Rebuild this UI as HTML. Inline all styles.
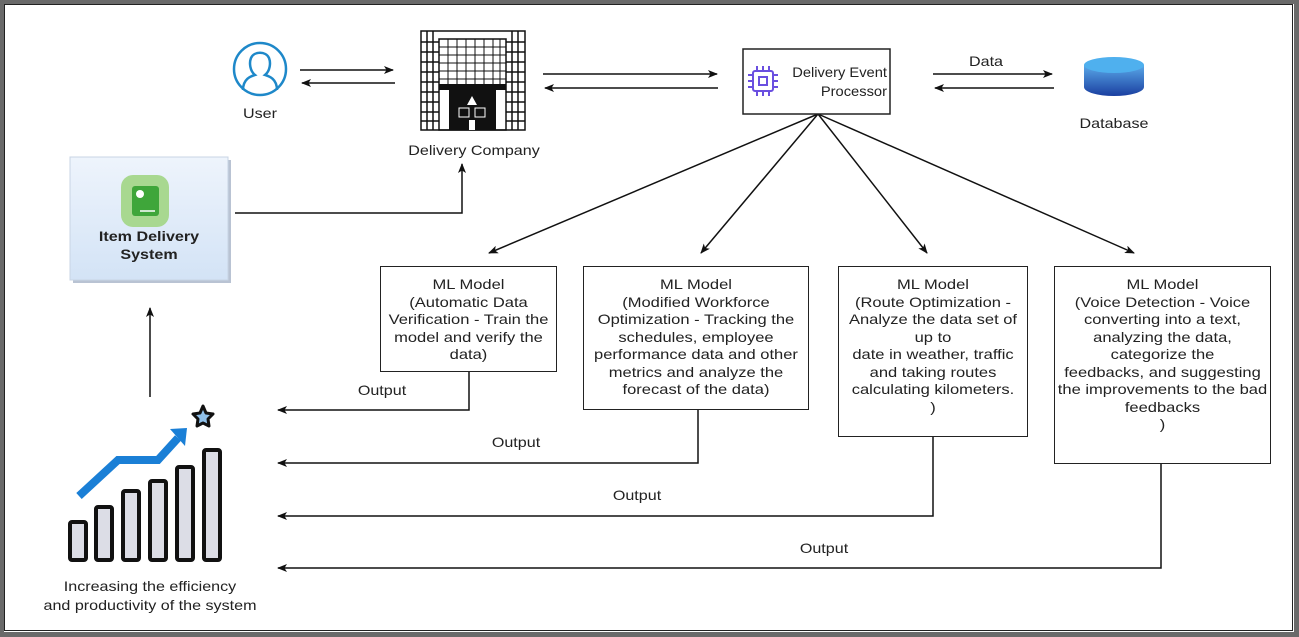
<!DOCTYPE html>
<html><head><meta charset="utf-8"><style>
body{margin:0;width:1299px;height:637px;background:#fff;overflow:hidden;position:relative;font-family:"Liberation Sans",Arial,sans-serif;color:#222}
.t{position:absolute;font-size:14px;text-align:center;line-height:17.5px;white-space:nowrap;transform:scaleX(1.15);transform-origin:50% 50%}
.box{position:absolute;border:1.5px solid #222;background:#fff;box-sizing:border-box;font-size:14px;text-align:center;line-height:17.5px;padding-top:10px;white-space:nowrap}
.box div{transform:scaleX(1.18);transform-origin:50% 0}
</style></head><body>
<div style="position:absolute;left:0;top:0;width:1299px;height:637px;box-sizing:border-box;border:4px solid #6a6a6a;border-right-width:5px;border-bottom-width:5px"></div>
<div style="position:absolute;left:4px;top:4px;width:1289px;height:627px;box-sizing:border-box;border:1px solid #222"></div>
<svg width="1299" height="637" style="position:absolute;left:0;top:0">
<defs><marker id="a" markerWidth="10" markerHeight="8" refX="9" refY="4" orient="auto" markerUnits="userSpaceOnUse"><path d="M0,0L10,4L0,8L2.5,4z" fill="#111"/></marker>
<linearGradient id="db" x1="0" y1="0" x2="0" y2="1"><stop offset="0" stop-color="#5aa8e8"/><stop offset="1" stop-color="#1a3fa0"/></linearGradient>
<linearGradient id="ib" x1="0" y1="0" x2="0" y2="1"><stop offset="0" stop-color="#eef4fc"/><stop offset="1" stop-color="#d3e3f6"/></linearGradient></defs>
<g stroke="#111" stroke-width="1.5" fill="none">
<line x1="300" y1="70" x2="393" y2="70" marker-end="url(#a)"/>
<line x1="395" y1="83" x2="302" y2="83" marker-end="url(#a)"/>
<line x1="543" y1="74" x2="717" y2="74" marker-end="url(#a)"/>
<line x1="718" y1="88" x2="545" y2="88" marker-end="url(#a)"/>
<line x1="933" y1="74" x2="1052" y2="74" marker-end="url(#a)"/>
<line x1="1054" y1="88" x2="935" y2="88" marker-end="url(#a)"/>
<polyline points="235,213 462,213 462,164" marker-end="url(#a)"/>
<line x1="818" y1="114" x2="489" y2="253" marker-end="url(#a)"/>
<line x1="818" y1="114" x2="701" y2="253" marker-end="url(#a)"/>
<line x1="818" y1="114" x2="927" y2="253" marker-end="url(#a)"/>
<line x1="818" y1="114" x2="1134" y2="253" marker-end="url(#a)"/>
<polyline points="469,371 469,410 278,410" marker-end="url(#a)"/>
<polyline points="698,409 698,463 278,463" marker-end="url(#a)"/>
<polyline points="933,436 933,516 278,516" marker-end="url(#a)"/>
<polyline points="1161,463 1161,568 278,568" marker-end="url(#a)"/>
<line x1="150" y1="397" x2="150" y2="308" marker-end="url(#a)"/>
</g>
<circle cx="260" cy="69" r="26" fill="none" stroke="#1e88c9" stroke-width="2.5"/>
<path d="M243,90 C243,78 252,76 255,75 C250,71 249,63 251,58 C254,51 266,51 269,58 C271,63 270,71 265,75 C268,76 277,78 277,90" fill="none" stroke="#1e88c9" stroke-width="2.5"/>
<g stroke="#111" fill="none" stroke-width="1.5">
<rect x="421" y="31" width="104" height="99"/>
<rect x="439" y="39" width="67" height="91"/>
<path d="M421,42h18M421,52h18M421,62h18M421,72h18M421,82h18M421,92h18M421,102h18M421,112h18M421,121h18M506,42h19M506,52h19M506,62h19M506,72h19M506,82h19M506,92h19M506,102h19M506,112h19M506,121h19M427,31v99M433,31v99M512,31v99M518,31v99"/>
<path d="M439,47h67M439,55h67M439,63h67M439,71h67M439,79h67M448,39v45M457,39v45M466,39v45M475,39v45M484,39v45M493,39v45M500,39v45" stroke-width="1"/>
</g>
<rect x="439" y="84" width="67" height="6" fill="#111"/>
<rect x="449" y="90" width="47" height="40" fill="#111"/>
<path d="M472,96l-5,9h10z" fill="#fff"/>
<rect x="459" y="108" width="10" height="9" fill="none" stroke="#fff"/><rect x="475" y="108" width="10" height="9" fill="none" stroke="#fff"/>
<rect x="469" y="120" width="6" height="10" fill="#fff"/>
<rect x="73" y="160" width="158" height="123" fill="#b9c3d3"/>
<rect x="70" y="157" width="158" height="123" fill="url(#ib)" stroke="#c8d4e4"/>
<rect x="121" y="175" width="48" height="52" rx="12" fill="#a8d890"/>
<rect x="132" y="186" width="27" height="30" rx="3" fill="#3fa63a"/>
<circle cx="140" cy="194" r="4" fill="#fff"/>
<line x1="140" y1="211" x2="155" y2="211" stroke="#fff" stroke-width="1.5"/>
<rect x="743" y="49" width="147" height="65" fill="#fff" stroke="#222" stroke-width="1.5"/>
<g stroke="#6a4fe0" stroke-width="2" fill="none"><rect x="753" y="71" width="20" height="20" rx="2"/><rect x="759" y="77" width="8" height="8"/>
<path d="M757,66v5M763,66v5M769,66v5M757,91v5M763,91v5M769,91v5M748,75h5M748,81h5M748,87h5M773,75h5M773,81h5M773,87h5"/></g>
<path d="M1084,65 v22 a30,9 0 0 0 60,0 v-22z" fill="url(#db)"/>
<ellipse cx="1114" cy="65" rx="30" ry="8" fill="#4fb0ee"/>
<g stroke="#111" stroke-width="4" fill="#dcdde6">
<rect x="70" y="522" width="16" height="38" rx="2"/><rect x="96" y="507" width="16" height="53" rx="2"/>
<rect x="123" y="491" width="16" height="69" rx="2"/><rect x="150" y="481" width="16" height="79" rx="2"/>
<rect x="177" y="467" width="16" height="93" rx="2"/><rect x="204" y="450" width="16" height="110" rx="2"/>
</g>
<polyline points="79,496 118,460 158,460 178,438" fill="none" stroke="#1a7fd6" stroke-width="8"/>
<path d="M170,429 L187,428 L185,446z" fill="#1a7fd6"/>
<path d="M203,406 l3,7 7,1 -5,5 1,7 -6,-3 -6,3 1,-7 -5,-5 7,-1z" fill="#8fc0ea" stroke="#111" stroke-width="3" stroke-linejoin="round"/>
</svg>
<div class="t" style="left:230px;top:105px;width:60px">User</div>
<div class="t" style="left:394px;top:142px;width:160px">Delivery Company</div>
<div class="t" style="left:70px;top:228px;width:158px;font-weight:bold">Item Delivery<br>System</div>
<div class="t" style="left:778px;top:63px;width:109px;text-align:right;line-height:19px;transform:scaleX(1.05);transform-origin:100% 50%">Delivery Event<br>Processor</div>
<div class="t" style="left:956px;top:53px;width:60px">Data</div>
<div class="t" style="left:1064px;top:115px;width:100px">Database</div>
<div class="box" style="left:380px;top:266px;width:177px;height:106px;padding-top:9px"><div>ML Model<br>(Automatic Data<br>Verification - Train the<br>model and verify the<br>data)</div></div>
<div class="box" style="left:583px;top:266px;width:226px;height:144px;padding-top:9px"><div>ML Model<br>(Modified Workforce<br>Optimization - Tracking the<br>schedules, employee<br>performance data and other<br>metrics and analyze the<br>forecast of the data)</div></div>
<div class="box" style="left:838px;top:266px;width:190px;height:171px;padding-top:9px"><div>ML Model<br>(Route Optimization -<br>Analyze the data set of<br>up to<br>date in weather, traffic<br>and taking routes<br>calculating kilometers.<br>)</div></div>
<div class="box" style="left:1054px;top:266px;width:217px;height:198px;padding-top:9px"><div>ML Model<br>(Voice Detection - Voice<br>converting into a text,<br>analyzing the data,<br>categorize the<br>feedbacks, and suggesting<br>the improvements to the bad<br>feedbacks<br>)</div></div>
<div class="t" style="left:352px;top:382px;width:60px">Output</div>
<div class="t" style="left:486px;top:434px;width:60px">Output</div>
<div class="t" style="left:607px;top:487px;width:60px">Output</div>
<div class="t" style="left:794px;top:540px;width:60px">Output</div>
<div class="t" style="left:20px;top:577px;width:260px;line-height:19px">Increasing the efficiency<br>and productivity of the system</div>
</body></html>
